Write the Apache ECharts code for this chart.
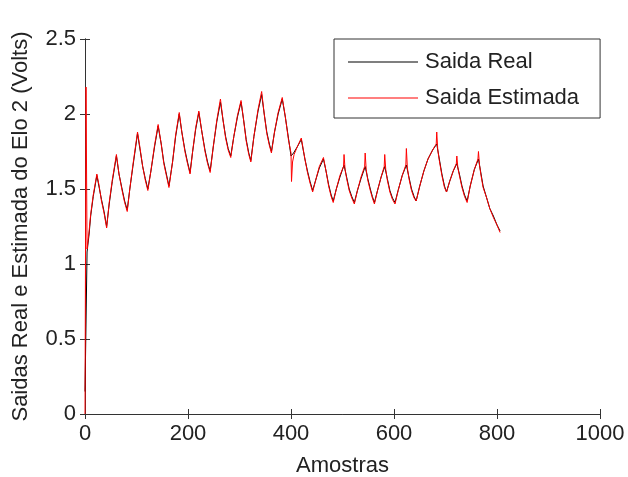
<!DOCTYPE html>
<html>
<head>
<meta charset="utf-8">
<script src="https://cdn.jsdelivr.net/npm/echarts@6/dist/echarts.min.js"></script>
<style>
  html, body { margin: 0; padding: 0; background: #fff; }
  #chart { width: 628px; height: 477px; }
</style>
</head>
<body>
<div id="chart"></div>
<script>
// amostras / saida
let saidaReal = [
  [0,0.15],[4,1.08],[8,1.2],[11,1.32],[16,1.45],[23,1.59],[27,1.52],[32,1.43],[37,1.35],[42,1.25],
  [47,1.4],[53,1.55],[61,1.72],[66,1.6],[72,1.5],[77,1.42],[82,1.36],[87,1.5],[93,1.65],[102,1.87],
  [107,1.76],[112,1.65],[117,1.57],[122,1.5],[128,1.62],[135,1.78],[142,1.92],[148,1.8],[153,1.68],
  [158,1.6],[163,1.52],[170,1.68],[176,1.85],[183,2.0],[188,1.88],[194,1.76],[199,1.68],[204,1.61],
  [209,1.75],[215,1.9],[221,2.01],[227,1.88],[233,1.76],[238,1.68],[243,1.62],[249,1.78],[256,1.95],
  [263,2.08],[268,1.96],[273,1.85],[278,1.77],[283,1.72],[289,1.85],[296,1.98],[303,2.08],[308,1.96],
  [313,1.83],[318,1.74],[322,1.69],[328,1.85],[336,2.02],[343,2.13],[348,2.0],[353,1.88],[358,1.8],
  [362,1.75],[368,1.88],[375,2.0],[383,2.1],[389,1.98],[395,1.84],[400,1.72],[405,1.74],[412,1.78],
  [420,1.83],[427,1.7],[432,1.62],[437,1.55],[442,1.49],[448,1.56],[455,1.64],[463,1.7],[468,1.62],
  [473,1.53],[478,1.46],[482,1.42],[488,1.5],[495,1.58],[503,1.66],[508,1.58],[513,1.5],[518,1.45],
  [523,1.41],[529,1.49],[536,1.57],[544,1.65],[549,1.57],[554,1.5],[558,1.45],[562,1.41],[568,1.49],
  [575,1.58],[582,1.65],[587,1.57],[592,1.49],[597,1.44],[602,1.41],[608,1.49],[616,1.59],[624,1.66],
  [629,1.58],[634,1.5],[639,1.45],[643,1.42],[650,1.52],[658,1.62],[666,1.7],[675,1.76],[683,1.8],
  [688,1.7],[693,1.6],[698,1.52],[702,1.48],[708,1.55],[715,1.62],[722,1.67],[727,1.6],[732,1.52],
  [737,1.46],[742,1.42],[748,1.52],[756,1.63],[764,1.7],[769,1.6],[773,1.52],[780,1.44],[786,1.37],
  [793,1.32],[800,1.26],[806,1.22]
];
let saidaEstimada = [
  [0,0],[2,2.18],[4,1.1],[8,1.22],[11,1.33],[16,1.46],[23,1.6],[27,1.53],[32,1.42],[37,1.34],[42,1.24],
  [47,1.41],[53,1.56],[61,1.73],[66,1.6],[72,1.49],[77,1.41],[82,1.35],[87,1.5],[93,1.66],[102,1.88],
  [107,1.77],[112,1.65],[117,1.56],[122,1.49],[128,1.62],[135,1.79],[142,1.93],[148,1.8],[153,1.67],
  [158,1.59],[163,1.51],[170,1.68],[176,1.86],[183,2.01],[188,1.88],[194,1.75],[199,1.67],[204,1.6],
  [209,1.75],[215,1.91],[221,2.02],[227,1.88],[233,1.75],[238,1.67],[243,1.61],[249,1.78],[256,1.96],
  [263,2.1],[268,1.96],[273,1.84],[278,1.76],[283,1.71],[289,1.85],[296,1.99],[303,2.09],[308,1.96],
  [313,1.82],[318,1.73],[322,1.68],[328,1.85],[336,2.03],[343,2.15],[348,2.0],[353,1.87],[358,1.79],
  [362,1.74],[368,1.88],[375,2.01],[383,2.11],[389,1.98],[395,1.83],[400,1.74],[401,1.55],[403,1.68],
  [406,1.73],[412,1.78],[420,1.84],[427,1.7],[432,1.61],[437,1.54],[442,1.48],[448,1.56],[455,1.65],
  [463,1.71],[468,1.62],[473,1.52],[478,1.45],[482,1.41],[488,1.5],[495,1.59],[502,1.65],[503,1.73],
  [505,1.63],[508,1.57],[513,1.49],[518,1.44],[523,1.4],[529,1.49],[536,1.58],[543,1.65],[544,1.74],
  [546,1.63],[549,1.56],[554,1.49],[558,1.44],[562,1.4],[568,1.49],[575,1.58],[581,1.65],[582,1.73],
  [584,1.63],[587,1.56],[592,1.48],[597,1.43],[602,1.4],[608,1.49],[616,1.59],[623,1.66],[624,1.77],
  [626,1.64],[629,1.57],[634,1.49],[639,1.44],[643,1.42],[650,1.52],[658,1.62],[666,1.7],[675,1.76],
  [682,1.8],[683,1.88],[685,1.76],[688,1.69],[693,1.59],[698,1.51],[702,1.48],[708,1.55],[715,1.62],
  [721,1.67],[722,1.72],[724,1.64],[727,1.59],[732,1.51],[737,1.45],[742,1.41],[748,1.52],[756,1.63],
  [763,1.7],[764,1.75],[766,1.66],[769,1.59],[773,1.51],[780,1.44],[786,1.37],[793,1.31],[800,1.26],
  [806,1.21]
];
let xTicks = { min: 0, max: 1000, interval: 200 };
let yTicks = { min: 0, max: 2.5, interval: 0.5 };

let axisColor = '#333';
let fontFam = 'Liberation Sans, Arial, sans-serif';

let option = {
  backgroundColor: '#fff',
  animation: false,
  grid: { left: 85, top: 39, width: 515, height: 375, outerBoundsMode: 'none' },
  legend: {
    data: ['Saida Real', 'Saida Estimada'],
    orient: 'vertical',
    left: 334,
    top: 39,
    icon: 'rect',
    itemWidth: 70,
    itemHeight: 1,
    itemGap: 14,
    padding: [12, 21, 9, 14],
    borderColor: axisColor,
    borderWidth: 1,
    backgroundColor: '#fff',
    textStyle: { fontSize: 22, color: '#222', fontFamily: fontFam, padding: [0, 0, 0, 2] }
  },
  xAxis: [
    {
      type: 'value',
      min: xTicks.min, max: xTicks.max, interval: xTicks.interval,
      name: 'Amostras',
      nameLocation: 'middle',
      nameGap: 41,
      nameTextStyle: { fontSize: 22, color: '#222', fontFamily: fontFam },
      axisLine: { lineStyle: { color: axisColor } },
      axisTick: { inside: true, length: 5, lineStyle: { color: axisColor } },
      axisLabel: { fontSize: 22, color: '#222', margin: 9, fontFamily: fontFam, formatter: v => String(v) },
      splitLine: { show: false }
    },
    {
      type: 'value', position: 'top',
      min: xTicks.min, max: xTicks.max, interval: xTicks.interval,
      axisLine: { show: true, lineStyle: { color: axisColor } },
      axisTick: { inside: true, length: 5, lineStyle: { color: axisColor } },
      axisLabel: { show: false },
      splitLine: { show: false }
    }
  ],
  yAxis: [
    {
      type: 'value',
      min: yTicks.min, max: yTicks.max, interval: yTicks.interval,
      name: 'Saidas Real e Estimada do Elo 2 (Volts)',
      nameLocation: 'middle',
      nameGap: 53,
      nameTextStyle: { fontSize: 22, color: '#222', fontFamily: fontFam },
      axisLine: { show: true, lineStyle: { color: axisColor } },
      axisTick: { show: true, inside: true, length: 5, lineStyle: { color: axisColor } },
      axisLabel: { fontSize: 22, color: '#222', margin: 9, fontFamily: fontFam },
      splitLine: { show: false }
    },
    {
      type: 'value', position: 'right',
      min: yTicks.min, max: yTicks.max, interval: yTicks.interval,
      axisLine: { show: true, lineStyle: { color: axisColor } },
      axisTick: { show: true, inside: true, length: 5, lineStyle: { color: axisColor } },
      axisLabel: { show: false },
      splitLine: { show: false }
    }
  ],
  series: [
    {
      name: 'Saida Real',
      type: 'line',
      symbol: 'none',
      lineStyle: { color: '#000', width: 1 },
      itemStyle: { color: '#000' },
      data: saidaReal
    },
    {
      name: 'Saida Estimada',
      type: 'line',
      symbol: 'none',
      lineStyle: { color: '#ff0000', width: 1 },
      itemStyle: { color: '#ff0000' },
      data: saidaEstimada
    }
  ]
};

let myChart = echarts.init(document.getElementById('chart'));
myChart.setOption(option);
</script>
</body>
</html>
